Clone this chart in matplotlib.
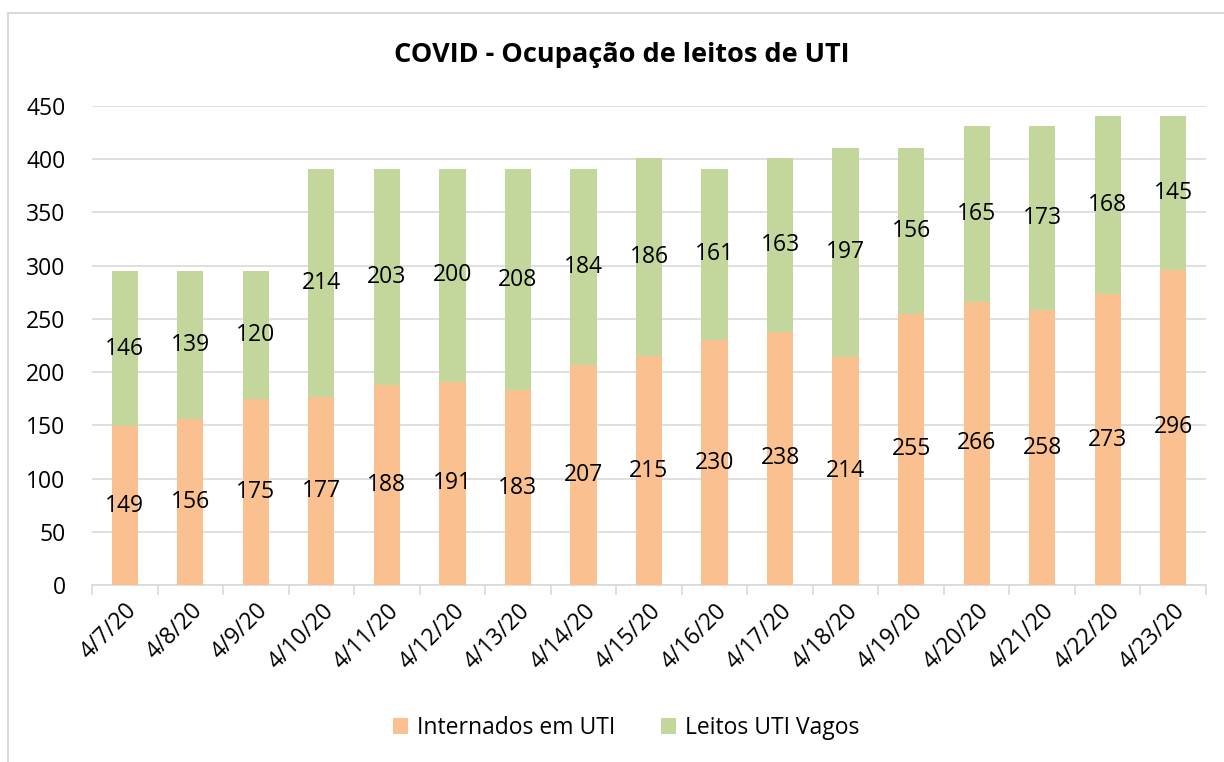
import matplotlib
matplotlib.use("Agg")
import matplotlib.pyplot as plt
from matplotlib.lines import Line2D
import numpy as np

dates = ["4/7/20", "4/8/20", "4/9/20", "4/10/20", "4/11/20", "4/12/20", "4/13/20",
         "4/14/20", "4/15/20", "4/16/20", "4/17/20", "4/18/20", "4/19/20", "4/20/20",
         "4/21/20", "4/22/20", "4/23/20"]
internados = [149, 156, 175, 177, 188, 191, 183, 207, 215, 230, 238, 214, 255, 266, 258, 273, 296]
vagos = [146, 139, 120, 214, 203, 200, 208, 184, 186, 161, 163, 197, 156, 165, 173, 168, 145]

plt.rcParams['font.family'] = ['Open Sans', 'DejaVu Sans']

c_int = "#FAC090"
c_vag = "#C3D69B"

fig = plt.figure(figsize=(12.24, 7.62), dpi=100)
ax = fig.add_axes([92/1224, 1-585/762, (1206-92)/1224, (585-106)/762])

x = np.arange(len(dates))
w = 0.4
b1 = ax.bar(x, internados, w, color=c_int, label="Internados em UTI", zorder=3)
b2 = ax.bar(x, vagos, w, bottom=internados, color=c_vag, label="Leitos UTI Vagos", zorder=3)

for xi, a, v in zip(x, internados, vagos):
    ax.text(xi, a/2, str(a), ha='center', va='center', fontsize=16.5, color='black', zorder=4)
    ax.text(xi, a + v/2, str(v), ha='center', va='center', fontsize=16.5, color='black', zorder=4)

ax.set_xlim(-0.5, len(dates)-0.5)
ax.set_ylim(0, 450)
ax.set_yticks(np.arange(0, 451, 50))
ax.yaxis.grid(True, color='#D9D9D9', linewidth=1.2, zorder=0)
ax.set_axisbelow(True)
for s in ['top', 'right', 'left']:
    ax.spines[s].set_visible(False)
ax.spines['bottom'].set_color('#D9D9D9')
ax.spines['bottom'].set_linewidth(1.2)
ax.tick_params(axis='y', length=0, labelsize=16.5, pad=19)
ax.set_xticks(x)
ax.set_xticklabels(dates, rotation=45, ha='right', rotation_mode='anchor', fontsize=16.5)
ax.tick_params(axis='x', length=0, pad=10)
ax.set_xticks(np.arange(-0.5, len(dates), 1), minor=True)
ax.tick_params(axis='x', which='minor', length=7, color='#D9D9D9', width=1.2)

fig.text(622/1224, 1-55/762, "COVID - Ocupação de leitos de UTI", ha='center', va='center',
         fontsize=19.5, fontweight='bold')

leg = fig.legend(handles=[b1, b2], loc='center', bbox_to_anchor=(626/1224, 1-728/762),
                 ncol=2, frameon=False, fontsize=16.5, handlelength=0.65, handleheight=0.65,
                 columnspacing=2.0, handletextpad=0.4)

fig.add_artist(Line2D([8/1224, 8/1224], [0, 1-13/762], color='#D9D9D9', lw=1.5, transform=fig.transFigure))
fig.add_artist(Line2D([8/1224, 1], [1-13/762, 1-13/762], color='#D9D9D9', lw=1.5, transform=fig.transFigure))

fig.savefig("out.png", dpi=100)
